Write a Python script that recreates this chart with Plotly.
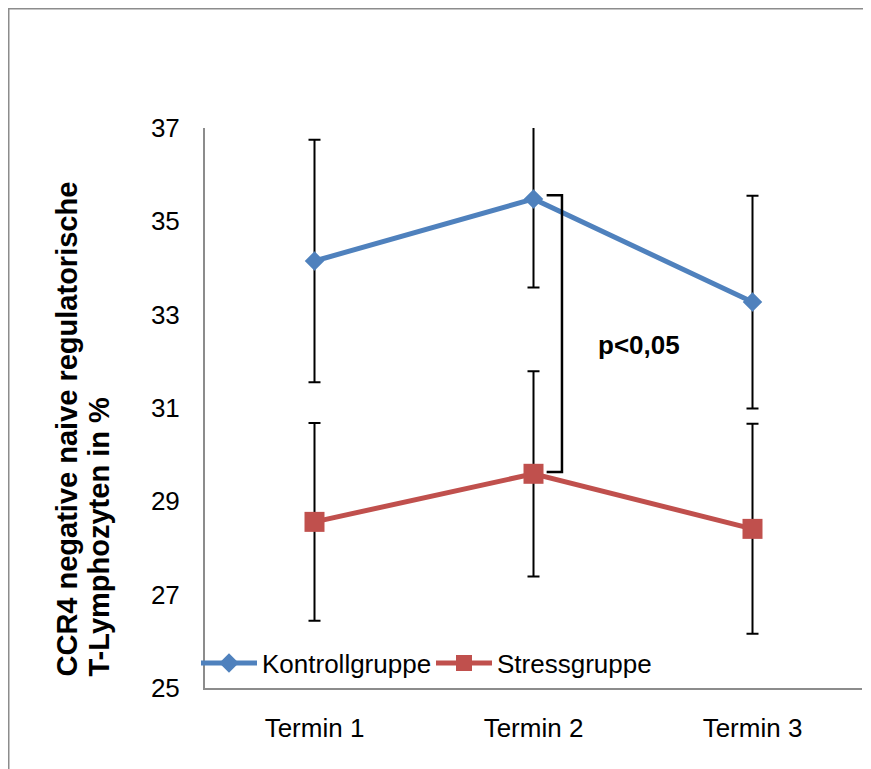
import plotly.graph_objects as go

categories = ["Termin 1", "Termin 2", "Termin 3"]
kontroll = [34.15, 35.48, 33.27]
kontroll_err = [2.6, 1.9, 2.28]
stress = [28.56, 29.59, 28.41]
stress_err = [2.12, 2.2, 2.25]
y_ticks = [25, 27, 29, 31, 33, 35, 37]
bracket_y = [35.56, 29.63]
p_label = "p<0,05"

W, H = 871, 769
OFF = 8  # page body margin
L, T = 205 - OFF, 128 - OFF
R, B = W - (862 - OFF), H - (688 - OFF)
pw, ph = W - L - R, H - T - B

def px_x(p):
    return (p - OFF - L) / pw

def px_y(p):
    return (H - B - (p - OFF)) / ph

xs = list(range(len(categories)))
font = "Liberation Sans, Arial, sans-serif"

fig = go.Figure()
fig.add_trace(go.Scatter(
    x=xs, y=kontroll, name="Kontrollgruppe", mode="lines+markers",
    line=dict(color="#4F81BD", width=5),
    marker=dict(symbol="diamond", size=15, color="#4F81BD"),
    error_y=dict(type="data", array=kontroll_err, color="black", thickness=2, width=6),
))
fig.add_trace(go.Scatter(
    x=xs, y=stress, name="Stressgruppe", mode="lines+markers",
    line=dict(color="#C0504D", width=5),
    marker=dict(symbol="square", size=20, color="#C0504D"),
    error_y=dict(type="data", array=stress_err, color="black", thickness=2, width=6),
))

# significance bracket
bx0, bx1 = 1.06, 1.13
fig.add_shape(type="path",
              path=f"M {bx0} {bracket_y[0]} L {bx1} {bracket_y[0]} L {bx1} {bracket_y[1]} L {bx0} {bracket_y[1]}",
              xref="x", yref="y", line=dict(color="black", width=2.5))
fig.add_annotation(x=1.48, y=32.35, xref="x", yref="y", text=f"<b>{p_label}</b>",
                   showarrow=False, font=dict(family=font, size=26, color="black"))

# outer frame
fig.add_shape(type="rect", xref="paper", yref="paper",
              x0=px_x(OFF + 0.5), y0=px_y(OFF + 0.5), x1=px_x(950), y1=px_y(850),
              line=dict(color="#8c8c8c", width=2), layer="below")

# y-axis title (two lines)
fig.add_annotation(x=0, xref="paper", xshift=58 - L, y=px_y(679), yref="paper",
                   text="<b>CCR4 negative naive regulatorische</b>", textangle=-90,
                   showarrow=False, xanchor="center", yanchor="bottom",
                   font=dict(family=font, size=29, color="black"))
fig.add_annotation(x=0, xref="paper", xshift=90 - L, y=px_y(679), yref="paper",
                   text="<b>T-Lymphozyten in %</b>", textangle=-90,
                   showarrow=False, xanchor="center", yanchor="bottom",
                   font=dict(family=font, size=29, color="black"))

fig.update_layout(
    width=W, height=H,
    margin=dict(l=L, r=R, t=T, b=B, autoexpand=False),
    paper_bgcolor="white", plot_bgcolor="white",
    font=dict(family=font, size=26, color="black"),
    showlegend=True,
    legend=dict(orientation="h", x=px_x(431), xanchor="center", y=px_y(663), yanchor="middle",
                bgcolor="rgba(0,0,0,0)", font=dict(family=font, size=26, color="black"),
                itemwidth=56, entrywidth=164, entrywidthmode="pixels", tracegroupgap=0),
    xaxis=dict(range=[-0.5, 2.5], tickmode="array", tickvals=xs, ticktext=categories,
               showgrid=False, zeroline=False, showline=True, linecolor="#8c8c8c", linewidth=2,
               ticks="", ticklabelstandoff=16, fixedrange=True),
    yaxis=dict(range=[25, 37], tickmode="array", tickvals=y_ticks,
               showgrid=False, zeroline=False, showline=True, linecolor="#8c8c8c", linewidth=2,
               ticks="", ticklabelstandoff=18, fixedrange=True),
)

fig.write_html("out.html")
